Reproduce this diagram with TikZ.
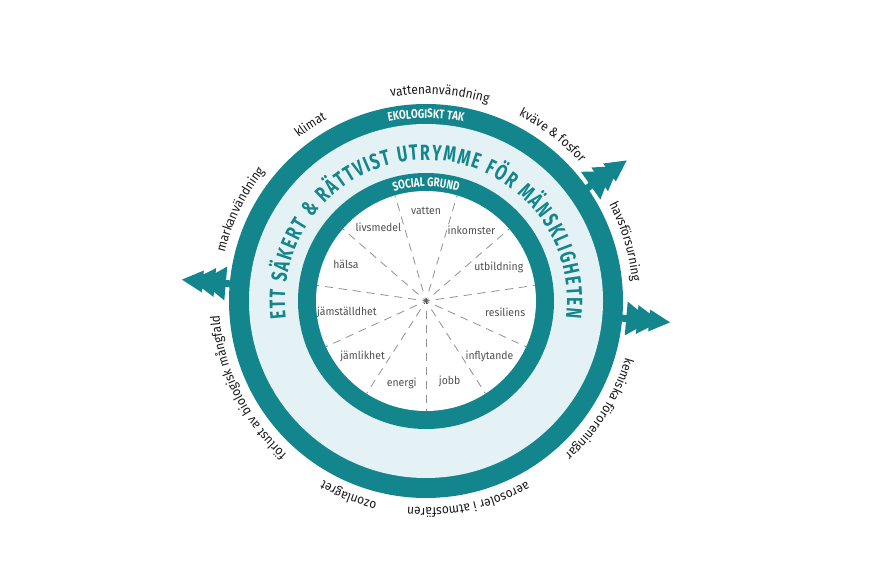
\documentclass[tikz,border=0pt]{standalone}
\usepackage{fontspec}
\setmainfont{Fira Sans}
\newfontfamily\outerFont[FakeStretch=0.92]{Fira Sans}
\newfontfamily\innerFont[FakeStretch=0.95]{Fira Sans}
\newfontfamily\ringFont[FakeStretch=0.78]{Fira Sans}
\newfontfamily\bandFont[FakeStretch=0.72]{Fira Sans}
\usetikzlibrary{decorations.text,calc}
\definecolor{ringTeal}{RGB}{19,133,140}
\definecolor{bandBlue}{RGB}{229,242,245}
\definecolor{spokeGray}{RGB}{145,145,145}
\definecolor{labelGray}{RGB}{80,80,80}
\newcommand{\arcText}[5]{%
	\path[decorate,decoration={text along path,text align=center,
		text={|#4|#5}}]
	(o) ++({#2+#3}:#1) arc[start angle={#2+#3},end angle={#2-#3},radius=#1pt];}
\newcommand{\outerStyle}{\outerFont\fontsize{13}{15}\selectfont\color{black!90}}
\newcommand{\titleStyle}{\ringFont\bfseries\fontsize{12.5}{14}\selectfont\color{white}}

\begin{document}
\begin{tikzpicture}
	[x=1pt,y=1pt,
	spoke/.style={spokeGray,line width=0.8pt,dash pattern=on 8pt off 6pt},
	hubRay/.style={black!70,line width=0.6pt},
	socialLabel/.style={font=\innerFont\fontsize{11}{13}\selectfont,text=labelGray,inner sep=1pt},
	tree/.style={fill=ringTeal,draw=none}]
	\useasboundingbox (0,0) rectangle (875,570);
	\coordinate (o) at (426,269);
	
	\fill[ringTeal] (o) circle (197pt);
	\fill[bandBlue] (o) circle (177pt);
	\fill[ringTeal] (o) circle (128pt);
	\fill[white] (o) circle (110pt);
	
	\foreach \ang in {35,-5,175}
	{
		\fill[tree,shift={(o)},rotate=\ang] (190,-3.5) -- (201,-3.5) -- (201,-17) -- (212,-9.5) -- (212,-14.5) -- (224,-7) -- (224,-11) -- (245,0)
		-- (224,11) -- (224,7) -- (212,14.5) -- (212,9.5) -- (201,17) -- (201,3.5) -- (190,3.5) -- cycle;
	}
	
	\foreach \k in {0,...,10}
	{
		\pgfmathsetmacro{\a}{270+\k*360/11}
		\draw[spoke,shift={(o)}] (\a:10) -- (\a:110);
		\draw[hubRay,shift={(o)}] (\a:0.5) -- (\a:3.5);
	}
	
	\foreach \name/\ang/\rad/\txt in {jobb/286.36/84/jobb, inflytande/319.09/84/inflytande,
		resiliens/351.82/80/resiliens, utbildning/24.55/80/utbildning, inkomster/57.27/84/inkomster,
		vatten/90/90/vatten, livsmedel/122.73/88/livsmedel, halsa/155.45/88/hälsa,
		jamstalldhet/188.18/80/jämställdhet, jamlikhet/220.91/84/jämlikhet, energi/253.64/86/energi}
	{
		\node[socialLabel] (\name) at ($(o)+(\ang:\rad)$) {\txt};
	}
	
	\arcText{207}{153.8}{40}{\outerStyle}{markanvändning}
	\arcText{207}{123.3}{40}{\outerStyle}{klimat}
	\arcText{207}{86.2}{40}{\outerStyle}{vattenanvändning}
	\arcText{207}{52.6}{40}{\outerStyle}{kväve {\&} fosfor}
	\arcText{207}{16.6}{40}{\outerStyle}{havsförsurning}
	\arcText{207}{-31.8}{40}{\outerStyle}{kemiska föroreningar}
	\arcText{207}{-78}{40}{\outerStyle}{aerosoler i atmosfären}
	\arcText{207}{248.3}{40}{\outerStyle}{ozonlagret}
	\arcText{207}{205.9}{40}{\outerStyle}{förlust av biologisk mångfald}
	
	\arcText{183}{90}{40}{\titleStyle}{EKOLOGISKT TAK}
	\arcText{114.5}{90}{50}{\titleStyle}{SOCIAL GRUND}
	
	\path[decorate,decoration={text along path,text align=fit to path,
		text={|\bandFont\bfseries\fontsize{22}{24}\selectfont\color{ringTeal}|ETT SÄKERT {\&} RÄTTVIST UTRYMME FÖR MÄNSKLIGHETEN}}]
	(o) ++(187:141) arc[start angle=187,end angle=-7,radius=141pt];
\end{tikzpicture}
\end{document}
